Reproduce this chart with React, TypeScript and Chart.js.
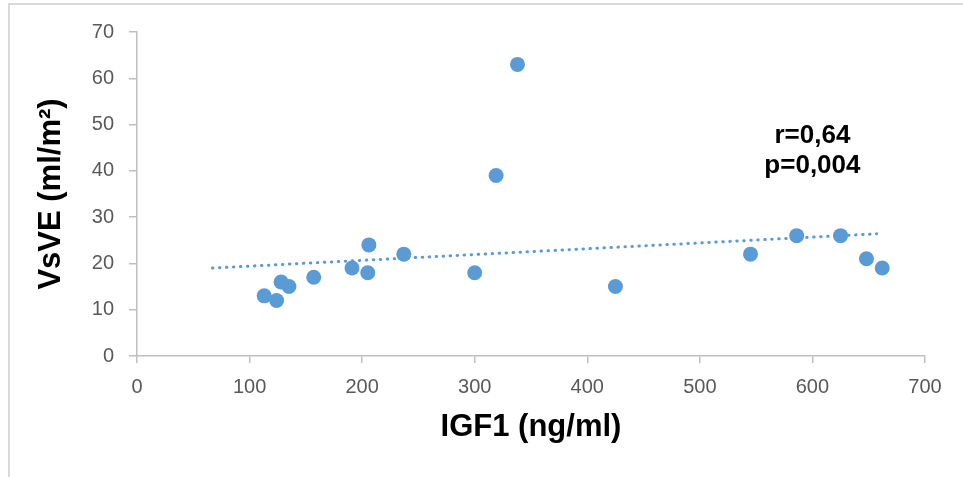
import React, { useEffect, useRef } from "react";
import { Chart, registerables } from "chart.js";

Chart.register(...registerables);

const igf1 = [113, 124, 128, 135, 157, 191, 205, 206, 237, 300, 319, 338, 425, 545, 586, 625, 648, 662];
const vsve = [13, 12, 16, 15, 17, 19, 18, 24, 22, 18, 39, 63, 15, 22, 26, 26, 21, 19];
const trendX = [67, 657];
const trendY = [19.0, 26.4];
const xTicks = [0, 100, 200, 300, 400, 500, 600, 700];
const yTicks = [0, 10, 20, 30, 40, 50, 60, 70];
const xTitle = "IGF1 (ng/ml)";
const yTitle = "VsVE (ml/m²)";
const statLines = ["r=0,64", "p=0,004"];
const statX = 600;
const statY = [47.5, 41];

const BLUE = "#5b9bd5";
const FONT = "'Liberation Sans', Arial, sans-serif";

export default function App() {
  const ref = useRef<HTMLCanvasElement | null>(null);

  useEffect(() => {
    if (!ref.current) return;
    const annot = {
      id: "annot",
      afterDatasetsDraw(chart: any) {
        const { ctx, scales } = chart;
        ctx.save();
        ctx.fillStyle = "#000";
        ctx.font = `bold 26px ${FONT}`;
        ctx.textAlign = "center";
        ctx.textBaseline = "middle";
        statLines.forEach((t, i) => {
          ctx.fillText(t, scales.x.getPixelForValue(statX), scales.y.getPixelForValue(statY[i]));
        });
        ctx.restore();
      },
    };
    const chart = new Chart(ref.current, {
      type: "scatter",
      data: {
        datasets: [
          {
            type: "line",
            data: trendX.map((x, i) => ({ x, y: trendY[i] })),
            borderColor: BLUE,
            borderWidth: 3,
            borderDash: [0.5, 6.5],
            borderCapStyle: "round",
            pointRadius: 0,
            fill: false,
            order: 2,
          } as any,
          {
            data: igf1.map((x, i) => ({ x, y: vsve[i] })),
            backgroundColor: BLUE,
            borderColor: BLUE,
            pointRadius: 7.5,
            pointHoverRadius: 7.5,
            borderWidth: 0,
            order: 1,
          },
        ],
      },
      options: {
        animation: false,
        responsive: false,
        events: [],
        layout: { padding: { top: 32, right: 38, left: 0, bottom: 0 } },
        plugins: { legend: { display: false }, tooltip: { enabled: false } },
        scales: {
          x: {
            type: "linear",
            min: 0,
            max: 700,
            afterFit: (s: any) => { s.height = 121; },
            afterBuildTicks: (s: any) => { s.ticks = xTicks.map((v) => ({ value: v })); },
            border: { display: true, color: "#bfbfbf", width: 1.5 },
            grid: { display: true, drawOnChartArea: false, tickLength: 7, color: "#bfbfbf", lineWidth: 1.5 },
            ticks: { color: "#595959", font: { family: FONT, size: 20 }, padding: 12, maxRotation: 0 },
            title: {
              display: true,
              text: xTitle,
              color: "#000",
              font: { family: FONT, size: 31, weight: "bold" },
              padding: { top: 0, bottom: 31 },
            },
          },
          y: {
            type: "linear",
            min: 0,
            max: 70,
            afterFit: (s: any) => { s.width = 137; },
            afterBuildTicks: (s: any) => { s.ticks = yTicks.map((v) => ({ value: v })); },
            border: { display: true, color: "#bfbfbf", width: 1.5 },
            grid: { display: true, drawOnChartArea: false, tickLength: 8, color: "#bfbfbf", lineWidth: 1.5 },
            ticks: { color: "#595959", font: { family: FONT, size: 20 }, padding: 15 },
            title: {
              display: true,
              text: yTitle,
              color: "#000",
              font: { family: FONT, size: 31, weight: "bold" },
              padding: { top: 33, bottom: 0 },
            },
          },
        },
      },
      plugins: [annot],
    } as any);
    return () => chart.destroy();
  }, []);

  return (
    <div style={{ position: "fixed", left: 0, top: 0, width: 963, height: 477, background: "#fff" }}>
      <canvas ref={ref} width={963} height={477} style={{ position: "absolute", left: 0, top: 0, width: 963, height: 477 }} />
      <div
        style={{
          position: "absolute",
          left: 8,
          top: 3,
          width: 955,
          height: 474,
          borderTop: "2px solid #d9d9d9",
          borderLeft: "2px solid #d9d9d9",
          pointerEvents: "none",
        }}
      />
    </div>
  );
}
